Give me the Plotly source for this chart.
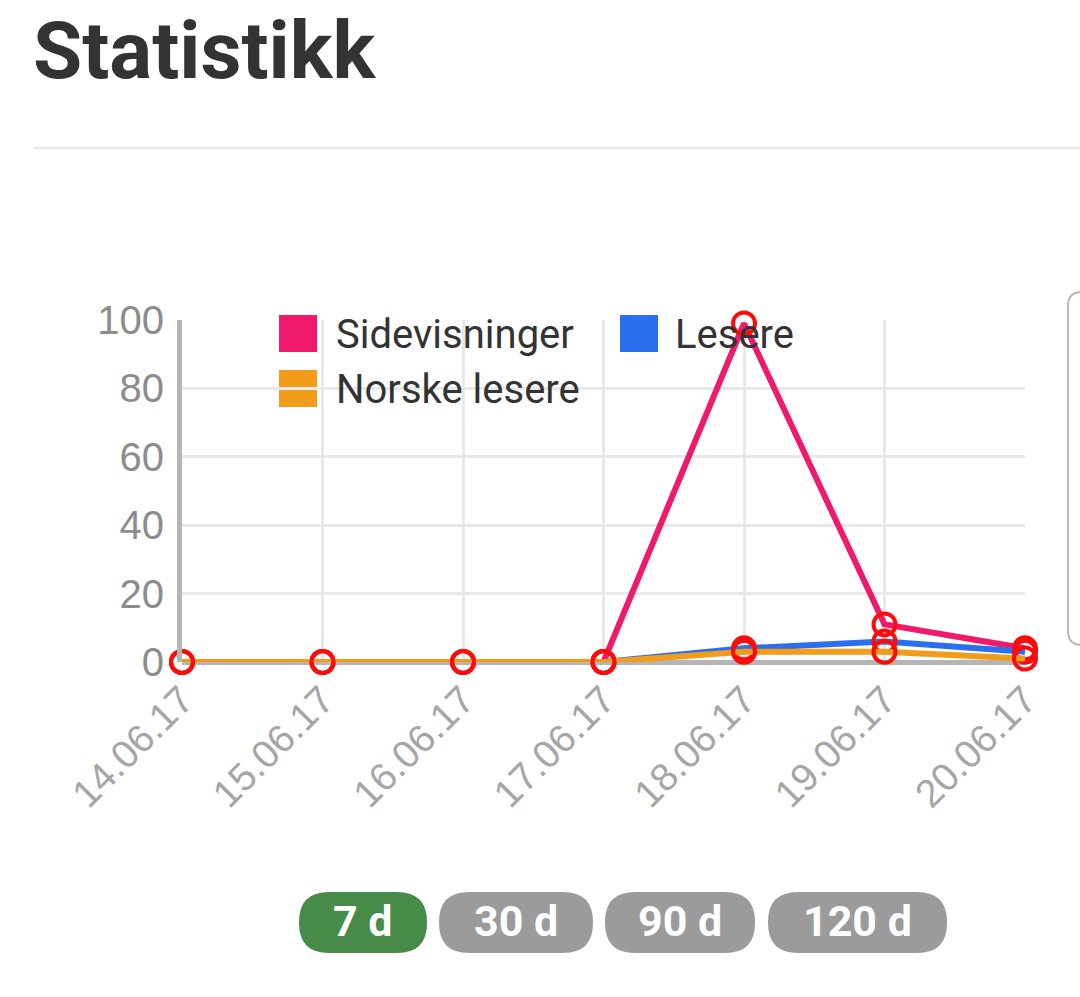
import plotly.graph_objects as go

dates = ["14.06.17", "15.06.17", "16.06.17", "17.06.17", "18.06.17", "19.06.17", "20.06.17"]
sidevisninger = [0, 0, 0, 0, 99, 11, 4]
lesere = [0, 0, 0, 0, 4, 6, 3]
norske_lesere = [0, 0, 0, 0, 3, 3, 1]
series_names = ["Sidevisninger", "Lesere", "Norske lesere"]
series_colors = ["#f0196b", "#2a6ff0", "#f29c1c"]
buttons = ["7 d", "30 d", "90 d", "120 d"]

W, H = 1080, 997
L, R, T, B = 182, 1025, 320, 662  # plot area in screenshot pixels


def px(x):
    return (x - L) / (R - L)


def py(y):
    return (B - y) / (B - T)


def pill(x0, y0, x1, y1, r):
    # rounded rectangle in paper coords, built from pixel corners
    return (f"M {px(x0 + r)} {py(y0)} L {px(x1 - r)} {py(y0)} "
            f"Q {px(x1)} {py(y0)} {px(x1)} {py(y0 + r)} "
            f"L {px(x1)} {py(y1 - r)} Q {px(x1)} {py(y1)} {px(x1 - r)} {py(y1)} "
            f"L {px(x0 + r)} {py(y1)} Q {px(x0)} {py(y1)} {px(x0)} {py(y1 - r)} "
            f"L {px(x0)} {py(y0 + r)} Q {px(x0)} {py(y0)} {px(x0 + r)} {py(y0)} Z")


fig = go.Figure()
for name, vals, col in zip(series_names, [sidevisninger, lesere, norske_lesere], series_colors):
    fig.add_trace(go.Scatter(
        x=dates, y=vals, name=name, mode="lines+markers",
        line=dict(color=col, width=6),
        marker=dict(symbol="circle-open", color="#ff0a0a", size=22, line=dict(width=4)),
        cliponaxis=False, showlegend=False))

shapes = []
annotations = []

# hand-made legend with big squares
legend_pos = [(279, 315, 337), (620, 315, 676), (279, 370, 337)]
for (sx, sy, tx), name, col in zip(legend_pos, series_names, series_colors):
    shapes.append(dict(type="rect", xref="paper", yref="paper", layer="below",
                       x0=px(sx), x1=px(sx + 38), y0=py(sy), y1=py(sy + 37),
                       fillcolor=col, line=dict(width=0)))
    annotations.append(dict(text=name, xref="paper", yref="paper", showarrow=False,
                            x=px(tx - 3), y=py(sy + 19), xanchor="left", yanchor="middle",
                            font=dict(family="Roboto", size=40, color="#333333")))

# divider under title
shapes.append(dict(type="line", xref="paper", yref="paper", x0=px(33), x1=px(1090),
                   y0=py(148), y1=py(148), line=dict(color="#ececec", width=3)))

# box cut off at the right edge
shapes.append(dict(type="path", xref="paper", yref="paper",
                   path=pill(1068, 292, 1140, 645, 14),
                   fillcolor="white", line=dict(color="#b8b8b8", width=2)))

# period buttons
btn_pos = [(299, 427), (439, 593), (605, 755), (768, 947)]
for i, (label, (x0, x1)) in enumerate(zip(buttons, btn_pos)):
    shapes.append(dict(type="path", xref="paper", yref="paper",
                       path=pill(x0, 892, x1, 953, 30),
                       fillcolor="#478b48" if i == 0 else "#9b9b9b", line=dict(width=0)))
    annotations.append(dict(text=f"<b>{label}</b>", xref="paper", yref="paper", showarrow=False,
                            x=px((x0 + x1) / 2), y=py(921), xanchor="center", yanchor="middle",
                            font=dict(family="Roboto", size=43, color="white")))

fig.update_layout(
    width=W, height=H,
    margin=dict(l=L, r=W - R, t=T, b=H - B, pad=0),
    paper_bgcolor="white", plot_bgcolor="white",
    title=dict(text="<b>Statistikk</b>", x=33 / W, y=1 - 50 / H, xanchor="left", yanchor="middle",
               xref="container", yref="container",
               font=dict(family="Roboto", size=80, color="#333333")),
    shapes=shapes, annotations=annotations,
    xaxis=dict(type="category", range=[0, 6], showgrid=True, gridcolor="#e8e8e8", gridwidth=3,
               tickangle=-45, tickfont=dict(family="Liberation Sans", size=39, color="#a6a6a6"),
               ticklabelstandoff=6, showline=False, zeroline=False),
    yaxis=dict(range=[0, 100], tickvals=[0, 20, 40, 60, 80, 100], showgrid=True,
               gridcolor="#e8e8e8", gridwidth=3, zeroline=True, zerolinecolor="#b5b5b5",
               zerolinewidth=5, showline=True, linecolor="#b5b5b5", linewidth=5,
               ticklabelstandoff=5,
               tickfont=dict(family="Liberation Sans", size=40, color="#8c8c8c")),
)

# drop the default 8px body margin so the figure fills the window
fig.write_html("out.html", config={"displayModeBar": False},
               post_script="document.body.style.margin='0';document.body.style.overflow='hidden';")
